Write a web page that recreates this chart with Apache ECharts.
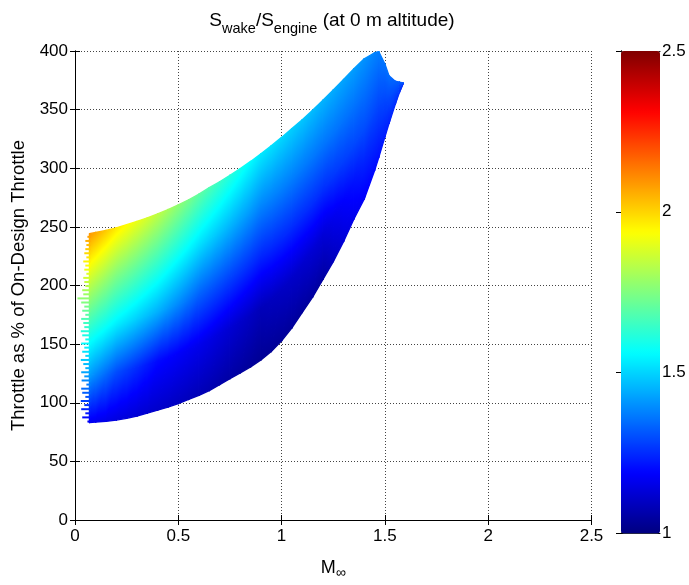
<!DOCTYPE html>
<html><head><meta charset="utf-8">
<script src="https://cdn.jsdelivr.net/npm/echarts@6/dist/echarts.min.js"></script>
<style>html,body{margin:0;padding:0;background:#fff}#c{width:689px;height:585px}</style>
</head><body><div id="c"></div>
<script>
// ---- data ----
const machCols = [0.07,0.1,0.15,0.2,0.25,0.3,0.35,0.4,0.45,0.5,0.55,0.6,0.65,0.7,0.75,0.8,0.85,0.9,0.95,1.0,1.05,1.1,1.15,1.2,1.25,1.3,1.35,1.4,1.45,1.47,1.5,1.52,1.55,1.57,1.588];
const throttleLow  = [83.1,83.6,84.1,85.2,86.7,88.7,91.2,93.7,96.3,99.3,102.8,106.4,110.4,115.4,120.5,125.5,130.6,136.6,143.7,152.8,163.9,177,190.1,205.2,220.4,237.5,256.7,273.8,298.1,309.2,326.8,338.4,354.6,364.6,372.2];
const throttleHigh = [244.2,245.2,247,249.2,251.8,254.7,257.7,261,264.8,268.8,273.1,277.9,283.4,288.5,294,299.7,305.8,312.3,319.2,326.3,333.8,341.4,349.5,358,366.7,375.8,384.8,393.4,398.5,399.5,388.9,378.8,374.2,373.5,372.7];
// S_wake/S_engine at 0, 1/4, 1/2, 3/4 and the full height of each column
const ratioF0   = [1.17,1.163,1.152,1.14,1.133,1.125,1.118,1.11,1.103,1.095,1.088,1.08,1.072,1.063,1.055,1.047,1.038,1.03,1.033,1.037,1.04,1.043,1.047,1.05,1.09,1.13,1.16,1.179,1.201,1.21,1.225,1.235,1.251,1.261,1.27];
const ratioF25  = [1.415,1.388,1.344,1.30,1.275,1.25,1.225,1.20,1.19,1.18,1.17,1.16,1.148,1.135,1.123,1.11,1.098,1.085,1.093,1.10,1.108,1.115,1.123,1.13,1.158,1.186,1.213,1.234,1.246,1.25,1.258,1.263,1.27,1.275,1.28];
const ratioF50  = [1.63,1.609,1.575,1.54,1.516,1.493,1.469,1.445,1.416,1.388,1.359,1.33,1.315,1.30,1.285,1.27,1.255,1.24,1.243,1.245,1.248,1.25,1.253,1.255,1.268,1.28,1.293,1.298,1.292,1.29,1.29,1.29,1.29,1.29,1.29];
const ratioF75  = [1.855,1.83,1.787,1.745,1.719,1.693,1.666,1.64,1.61,1.58,1.55,1.52,1.498,1.475,1.453,1.43,1.408,1.385,1.381,1.377,1.373,1.368,1.364,1.36,1.359,1.357,1.356,1.349,1.336,1.33,1.322,1.317,1.31,1.305,1.30];
const ratioF100 = [2.09,2.062,2.016,1.97,1.938,1.905,1.873,1.84,1.805,1.77,1.735,1.70,1.672,1.643,1.615,1.587,1.558,1.53,1.517,1.503,1.49,1.477,1.463,1.45,1.439,1.428,1.417,1.401,1.379,1.37,1.355,1.345,1.329,1.319,1.31];
const fractions = [0,0.25,0.5,0.75,1];
// ragged left edge: start Mach of individual throttle lines
const edgeRowThrottle = [84,87.5,91,94.5,98,101.5,105,108.5,112,115.5,119,122.5,126,129.5,133,136.5,140,143.5,147,150.5,154,157.5,161,164.5,168,171.5,175,178.5,182,185.5,189,192.5,196,199.5,203,206.5,210,213.5,217,220.5,224,227.5,231,234.5,238,241.5];
const edgeRowMach = [0.06,0.035,0.05,0.03,0.045,0.028,0.05,0.035,0.03,0.055,0.032,0.045,0.03,0.05,0.04,0.028,0.05,0.035,0.045,0.03,0.05,0.035,0.028,0.045,0.04,0.03,0.05,0.035,0.045,0.03,0.012,0.04,0.035,0.05,0.045,0.04,0.055,0.045,0.05,0.04,0.055,0.045,0.05,0.055,0.05,0.06];
const xTicks = [0,0.5,1,1.5,2,2.5];
const yTicks = [0,50,100,150,200,250,300,350,400];
const cbTicks = [1,1.5,2,2.5];
const jetColors = ['#000080','#0000ff','#0080ff','#00ffff','#80ff80','#ffff00','#ff8000','#ff0000','#800000'];

const ratioCols = [ratioF0,ratioF25,ratioF50,ratioF75,ratioF100];
const vMin = cbTicks[0], vMax = cbTicks[cbTicks.length-1];
function hex(c){return [parseInt(c.slice(1,3),16),parseInt(c.slice(3,5),16),parseInt(c.slice(5,7),16)];}
const jetRGB = jetColors.map(hex);
function jet(v){
  let t=(v-vMin)/(vMax-vMin); t=Math.max(0,Math.min(1,t));
  const p=t*(jetRGB.length-1); const i=Math.min(Math.floor(p),jetRGB.length-2); const f=p-i;
  const a=jetRGB[i], b=jetRGB[i+1];
  return 'rgb('+[0,1,2].map(k=>Math.round(a[k]+(b[k]-a[k])*f)).join(',')+')';
}
// colour ramp across a triangle (linear shading between its corners)
function fillFor(pts){
  const n=pts.length; let mx=0,my=0,mv=0;
  pts.forEach(p=>{mx+=p[0];my+=p[1];mv+=p[2];}); mx/=n;my/=n;mv/=n;
  let sxx=0,sxy=0,syy=0,sxv=0,syv=0;
  pts.forEach(p=>{const dx=p[0]-mx,dy=p[1]-my,dv=p[2]-mv;sxx+=dx*dx;sxy+=dx*dy;syy+=dy*dy;sxv+=dx*dv;syv+=dy*dv;});
  const det=sxx*syy-sxy*sxy;
  if(Math.abs(det)<1e-6) return jet(mv);
  const b=(sxv*syy-syv*sxy)/det, c=(syv*sxx-sxv*sxy)/det;
  const g=Math.hypot(b,c); if(g<1e-9) return jet(mv);
  const ux=b/g, uy=c/g;
  let smin=Infinity,smax=-Infinity;
  pts.forEach(p=>{const s=(p[0]-mx)*ux+(p[1]-my)*uy; smin=Math.min(smin,s); smax=Math.max(smax,s);});
  smin-=2; smax+=2;
  const v0=mv+g*smin, v1=mv+g*smax;
  if(v1-v0<1e-4) return jet(mv);
  const stops=[{offset:0,color:jet(v0)}];
  for(let k=1;k<jetRGB.length-1;k++){const vn=vMin+k*(vMax-vMin)/(jetRGB.length-1); if(vn>v0&&vn<v1) stops.push({offset:(vn-v0)/(v1-v0),color:jet(vn)});}
  stops.push({offset:1,color:jet(v1)});
  return new echarts.graphic.LinearGradient(mx+ux*smin,my+uy*smin,mx+ux*smax,my+uy*smax,stops,true);
}
function colAt(i,j,api){
  const t=throttleLow[i]+(throttleHigh[i]-throttleLow[i])*fractions[j];
  const p=api.coord([machCols[i],t]);
  return [p[0],p[1],ratioCols[j][i]];
}
function tri(p,q,r){
  const fill=fillFor([p,q,r]);
  return {type:'polygon',shape:{points:[[p[0],p[1]],[q[0],q[1]],[r[0],r[1]]]},
    style:{fill:fill,stroke:fill,lineWidth:1.4,lineJoin:'round'},silent:true};
}
function renderField(params,api){
  const i=api.value(3);
  if(i>=machCols.length-1) return null;
  const children=[];
  for(let j=0;j<fractions.length-1;j++){
    const a=colAt(i,j,api), b=colAt(i+1,j,api), c=colAt(i+1,j+1,api), d=colAt(i,j+1,api);
    children.push(tri(a,b,c)); children.push(tri(a,c,d));
  }
  return {type:'group',children:children};
}
function ratioAtEdge(t){
  const lo=throttleLow[0],hi=throttleHigh[0];
  let f=(t-lo)/(hi-lo); f=Math.max(0,Math.min(1,f));
  for(let j=0;j<fractions.length-1;j++){
    if(f<=fractions[j+1]){const w=(f-fractions[j])/(fractions[j+1]-fractions[j]); return ratioCols[j][0]+(ratioCols[j+1][0]-ratioCols[j][0])*w;}
  }
  return ratioCols[fractions.length-1][0];
}
function renderEdge(params,api){
  const m=api.value(0), t=api.value(1);
  const p0=api.coord([m,t]), p1=api.coord([machCols[0],t]);
  return {type:'rect',shape:{x:p0[0],y:p0[1]-1,width:p1[0]-p0[0]+1.5,height:2},style:{fill:jet(ratioAtEdge(t))},silent:true};
}

const FONT='"Liberation Sans", Arial, Helvetica, sans-serif';
const FS=17;
const lab={color:'#000',fontFamily:FONT,fontSize:FS};
const gridLine={show:true,lineStyle:{color:'#444',type:[1,2],width:1}};
const axLine={show:true,lineStyle:{color:'#000',width:1}};
const tickIn={show:true,inside:true,length:5,lineStyle:{color:'#000'}};
const G={left:75,top:51,width:516.5,height:482.4};

const chart=echarts.init(document.getElementById('c'),null,{renderer:'canvas'});
chart.setOption({
  animation:false,
  backgroundColor:'#fff',
  graphic:[{type:'text',x:332,y:11,style:{
    text:'{n|S}{s|wake}{n|/S}{s|engine}{n| (at 0 m altitude)}',align:'center',fill:'#000',
    rich:{n:{fontFamily:FONT,fontSize:19,lineHeight:21,verticalAlign:'top'},
          s:{fontFamily:FONT,fontSize:14.5,lineHeight:14,padding:[10,0,0,0],verticalAlign:'top'}}}}],
  grid:[G,{left:621,top:G.top,width:39,height:G.height}],
  xAxis:[
    {gridIndex:0,type:'value',min:xTicks[0],max:xTicks[xTicks.length-1],interval:xTicks[1]-xTicks[0],position:'bottom',
     axisLine:axLine,axisTick:tickIn,splitLine:gridLine,axisLabel:Object.assign({margin:8},lab),
     name:'M{s|\u221e}',nameLocation:'middle',nameGap:36,
     nameTextStyle:{fontFamily:FONT,fontSize:18,color:'#000',rich:{s:{fontFamily:FONT,fontSize:14,padding:[10,0,0,0],verticalAlign:'top'}}}},
    {gridIndex:0,type:'value',min:xTicks[0],max:xTicks[xTicks.length-1],interval:xTicks[1]-xTicks[0],position:'top',
     axisLine:axLine,axisTick:tickIn,splitLine:{show:false},axisLabel:{show:false}},
    {gridIndex:1,type:'value',min:0,max:1,position:'bottom',axisLine:axLine,axisTick:{show:false},splitLine:{show:false},axisLabel:{show:false}},
    {gridIndex:1,type:'value',min:0,max:1,position:'top',axisLine:axLine,axisTick:{show:false},splitLine:{show:false},axisLabel:{show:false}}
  ],
  yAxis:[
    {gridIndex:0,type:'value',min:yTicks[0],max:yTicks[yTicks.length-1],interval:yTicks[1]-yTicks[0],position:'left',
     axisLine:axLine,axisTick:tickIn,splitLine:gridLine,axisLabel:Object.assign({margin:7},lab),
     name:'Throttle as % of On-Design Throttle',nameLocation:'middle',nameGap:44,nameRotate:90,
     nameTextStyle:{fontFamily:FONT,fontSize:18.5,color:'#000'}},
    {gridIndex:0,type:'value',min:yTicks[0],max:yTicks[yTicks.length-1],interval:yTicks[1]-yTicks[0],position:'right',
     axisLine:axLine,axisTick:tickIn,splitLine:{show:false},axisLabel:{show:false}},
    {gridIndex:1,type:'value',min:cbTicks[0],max:cbTicks[cbTicks.length-1],interval:cbTicks[1]-cbTicks[0],position:'left',
     axisLine:axLine,axisTick:tickIn,splitLine:{show:false},axisLabel:{show:false}},
    {gridIndex:1,type:'value',min:cbTicks[0],max:cbTicks[cbTicks.length-1],interval:cbTicks[1]-cbTicks[0],position:'right',
     axisLine:axLine,axisTick:tickIn,splitLine:{show:false},axisLabel:Object.assign({margin:2},lab)}
  ],
  visualMap:{type:'continuous',min:vMin,max:vMax,seriesIndex:2,calculable:false,hoverLink:false,
    orient:'vertical',left:621,top:G.top,itemWidth:39,itemHeight:G.height,padding:0,text:null,
    inRange:{color:jetColors}},
  series:[
    {type:'custom',xAxisIndex:0,yAxisIndex:0,renderItem:renderField,clip:true,z:2,
     data:machCols.map((m,i)=>[m,throttleLow[i],throttleHigh[i],i])},
    {type:'custom',xAxisIndex:0,yAxisIndex:0,renderItem:renderEdge,clip:true,z:2,
     data:edgeRowThrottle.map((t,k)=>[edgeRowMach[k],t])},
    {type:'custom',xAxisIndex:2,yAxisIndex:2,renderItem:()=>null,data:[]}
  ]
});
</script></body></html>
